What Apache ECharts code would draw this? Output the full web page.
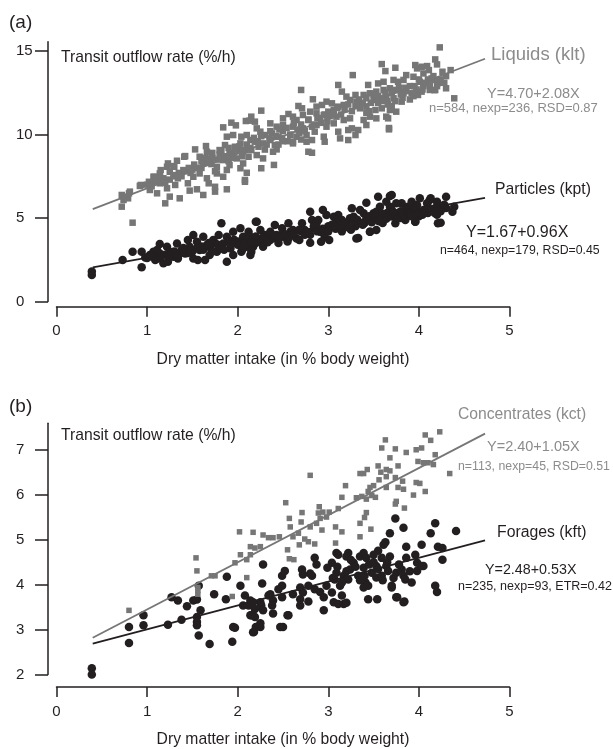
<!DOCTYPE html>
<html>
<head>
<meta charset="utf-8">
<script src="https://cdn.jsdelivr.net/npm/echarts@6/dist/echarts.min.js"></script>
<style>
  html, body { margin: 0; padding: 0; background: #fff; }
  #chart { width: 613px; height: 749px; }
</style>
</head>
<body>
<div id="chart"></div>
<script>
// ---- data ----
const xTicks = [0, 1, 2, 3, 4, 5];
const yTicksA = [0, 5, 10, 15];
const yTicksB = [2, 3, 4, 5, 6, 7];

// panel (a)
const liquids = [
  [4.23,15.22],[4.18,14.5],[4.20,14.2],[3.59,14.22],[3.74,14.0],[3.63,13.8],[3.98,13.96],[4.03,14.06],[4.09,14.1],
  [3.27,13.56],[3.86,13.56],[3.94,13.46],[4.05,13.66],[4.14,13.36],[4.01,13.16],[4.05,13.06],[4.18,13.27],[3.72,13.27],
  [3.77,13.16],[3.83,13.27],[4.12,12.67],[4.18,12.67],[3.11,12.97],[3.44,12.97],[3.55,13.06],[3.61,13.16],[2.70,12.67],
  [3.15,12.57],[3.92,12.47],[3.99,12.37],[4.03,12.57],[3.30,12.37],[3.39,12.37],[3.46,12.47],[3.53,12.57],[3.61,12.67],
  [3.68,12.77],[3.75,12.67],[2.83,12.11],[2.98,11.97],[3.04,11.87],[3.20,12.27],[3.24,12.07],[3.31,11.97],[3.42,12.17],
  [3.50,12.07],[3.57,12.17],[3.64,12.27],[3.72,12.17],[3.81,11.97],[3.83,12.47],[2.67,11.71],[2.71,11.57],[2.87,11.67],
  [2.93,11.77],[3.11,11.67],[3.17,11.77],[2.26,11.43],[3.00,11.37],[3.06,11.47],[3.35,11.57],[3.42,11.67],[3.52,11.47],
  [3.59,11.57],[3.68,11.47],[3.75,11.37],[3.66,10.97],[2.56,11.23],[2.61,11.07],[2.72,11.17],[2.80,11.37],[2.87,11.27],
  [2.95,11.17],[2.50,10.97],[2.65,10.87],[2.78,10.87],[2.91,10.97],[3.09,11.07],[3.17,10.87],[3.24,10.97],[3.39,10.87],
  [3.46,11.07],[3.53,10.97],[3.64,11.07],[2.15,11.07],[2.19,10.77],[2.36,10.67],[2.43,10.47],[2.50,10.57],[2.61,10.47],
  [2.72,10.37],[2.82,10.47],[2.87,10.57],[2.98,10.47],[3.06,10.67],[3.26,10.37],[3.33,10.27],[3.42,10.57],[3.11,10.17],
  [3.22,10.27],[3.67,10.31],[2.21,10.37],[2.25,10.17],[2.30,9.97],[2.38,10.07],[2.45,9.87],[2.58,9.97],[2.65,9.87],
  [2.76,9.97],[2.85,10.17],[2.95,9.87],[3.13,9.77],[3.22,9.67],[3.30,9.97],[2.96,9.57],[2.14,9.67],[2.19,9.57],
  [2.23,9.27],[2.28,9.47],[2.36,9.67],[2.41,9.37],[2.49,9.77],[2.61,9.57],[2.76,9.57],[2.82,9.67],[2.15,9.07],
  [2.21,8.77],[2.28,8.57],[2.39,8.97],[2.43,9.11],[2.61,9.47],[2.78,8.97],[2.82,8.91],[2.40,8.18],[2.26,7.98],
  [1.84,10.43],[1.93,10.71],[1.98,10.55],[2.09,10.81],[2.13,10.83],[1.88,9.87],[1.95,9.97],[2.04,9.87],[2.10,9.97],
  [1.53,9.11],[1.65,9.31],[1.42,8.71],[1.33,8.43],[1.22,8.07],[1.29,8.11],[1.80,9.07],[1.86,9.37],[1.91,8.87],
  [1.97,9.27],[2.03,9.47],[2.08,9.07],[2.12,8.67],[1.84,8.47],[1.91,8.17],[1.99,8.57],[2.06,8.27],[1.77,8.07],
  [1.88,7.88],[2.03,7.98],[1.66,8.97],[1.69,8.57],[1.58,8.67],[1.62,8.27],[1.71,8.23],
  [0.72,6.38],[0.74,6.08],[0.72,5.68],[0.81,6.58],[0.79,6.18],[0.92,6.92],[1.05,7.12],[1.03,6.68],[1.11,7.28],
  [1.14,7.08],[1.18,7.38],[1.11,6.48],[1.20,5.88],[1.25,6.28],[1.22,6.78],[1.31,6.98],[1.36,6.18],[1.34,7.38],
  [1.29,7.57],[1.45,7.08],[1.47,6.64],[1.55,6.72],[1.51,7.47],[1.58,7.67],[1.62,6.38],[1.66,7.38],[1.68,7.08],
  [1.75,6.58],[1.77,7.67],[1.88,6.72],[1.84,7.47],[2.08,7.28],[2.10,7.71],[0.84,4.72],[1.07,7.47],[1.14,7.67],
  [1.25,7.77],[1.40,7.87],[1.15,7.87],[1.23,8.27],[1.30,8.07],[1.41,8.67],[1.19,7.28],[1.08,7.47],[0.93,6.98],
  [1.02,7.17],[0.80,6.48],[0.74,6.28],[1.75,6.87],[2.08,7.17],[4.39,12.17],[4.30,12.77],[4.17,12.66],[4.21,13.08],
  [3.67,10.39],[4.11,13.86],[3.96,14.16],[1.72,8.6],[1.80,8.8],[1.95,8.9],[2.00,9.1],[1.60,8.0],[1.50,7.9],
  [1.75,7.8],[1.90,8.4],[2.05,8.7],[2.30,9.1],[2.45,9.4],[2.55,9.6],[2.35,9.8],[2.50,10.2],[2.68,10.1],[2.70,9.7],
  [3.35,11.8],[3.45,11.4],[3.55,11.9],[3.65,12.0],[3.70,11.7],[3.80,12.4],[3.90,12.1],[3.85,12.8],[3.95,12.9],
  [4.05,12.9],[4.10,13.3],[4.26,13.76],[4.35,13.86],[4.30,13.5],
  // dense core of the band
  [1.0,7.0],[1.05,6.9],[1.1,7.2],[1.15,7.4],[1.2,7.1],[1.25,7.3],[1.3,7.5],[1.35,7.7],[1.38,7.5],[1.42,7.8],
  [1.46,8.0],[1.48,7.7],[1.52,8.2],[1.55,8.0],[1.6,8.4],[1.64,8.6],[1.68,8.3],[1.72,8.9],[1.78,8.5],[1.82,9.0],
  [1.86,8.7],[1.9,9.2],[1.94,8.6],[1.98,9.0],[2.02,9.3],[2.06,9.0],[2.1,9.4],[2.14,9.2],[2.18,9.8],[2.22,9.6],
  [2.26,9.9],[2.32,9.4],[2.36,10.2],[2.42,9.9],[2.46,10.3],[2.5,9.6],[2.54,10.4],[2.58,10.0],[2.62,10.7],[2.66,10.3],
  [2.7,10.6],[2.74,10.2],[2.78,10.9],[2.84,10.6],[2.88,11.0],[2.92,10.7],[2.96,11.2],[2.99,10.8],[3.02,11.1],[3.06,11.3],
  [3.1,11.6],[3.14,11.2],[3.18,11.5],[3.22,11.8],[3.26,11.4],[3.3,11.7],[3.34,12.1],[3.38,11.9],[3.42,11.3],[3.47,11.9],
  [3.5,12.4],[3.55,12.3],[3.6,12.0],[3.63,12.5],[3.66,11.8],[3.7,12.5],[3.74,12.0],[3.78,12.8],[3.82,12.2],[3.86,12.6],
  [3.9,12.9],[3.94,12.3],[3.97,12.7],[4.0,13.3],[4.04,12.7],[4.08,13.1],[4.12,13.0],[4.16,13.5],[4.2,12.9],[4.24,13.3],
  [4.28,13.1]
];

const particles = [
  [0.39,1.79],[0.39,1.59],[0.73,2.48],[0.84,2.98],[0.94,2.98],[0.94,2.05],[1.03,2.78],[1.07,2.98],[1.11,3.08],
  [1.14,2.88],[1.18,2.29],[1.12,2.58],[1.09,2.48],[1.22,3.28],[1.25,2.98],[1.29,2.68],[1.33,3.48],[1.34,2.58],
  [1.38,3.08],[1.42,2.88],[1.45,3.68],[1.47,3.28],[1.51,3.98],[1.51,2.58],[1.55,3.58],[1.58,3.08],[1.62,3.88],
  [1.64,2.48],[1.66,3.38],[1.69,2.78],[1.73,3.68],[1.77,2.98],[1.79,3.98],[1.82,4.68],[1.84,3.48],[1.88,3.88],
  [1.92,3.18],[1.95,2.78],[1.95,4.18],[1.99,3.58],[2.03,4.38],[2.04,2.98],[2.06,3.88],[2.10,3.28],[2.12,4.18],
  [1.14,3.44],[1.23,2.38],[0.98,2.64],
  [2.20,4.78],[2.14,3.88],[2.17,3.28],[2.15,2.98],[2.23,3.58],[2.28,3.28],[2.30,3.98],[2.25,4.28],[2.36,3.68],
  [2.41,4.58],[2.43,3.98],[2.49,4.38],[2.50,3.88],[2.56,4.68],[2.58,4.18],[2.65,3.78],[2.68,3.68],[2.71,4.68],
  [2.74,4.28],[2.80,5.38],[2.82,4.88],[2.80,3.52],[2.85,4.38],[2.89,4.88],[2.91,4.18],[2.96,3.88],[3.01,3.68],
  [2.98,5.18],[3.06,5.08],[3.11,5.18],[3.15,4.88],[3.20,4.48],[3.26,5.58],[3.28,5.08],[3.31,3.78],[3.33,4.68],
  [3.39,5.28],[3.42,5.92],[3.44,4.88],[3.46,4.18],[3.50,5.28],[3.53,4.28],[3.57,5.68],[3.61,5.08],[3.64,5.98],
  [3.68,6.32],[3.70,5.48],[3.74,4.68],[3.77,5.28],[3.81,5.88],[3.85,4.88],[3.88,5.68],[3.92,5.98],[3.96,4.78],
  [3.98,5.38],[4.01,6.18],[4.05,5.48],[4.10,5.68],[4.12,6.08],[4.18,5.28],[4.21,4.68],[4.23,5.58],[2.36,4.18],
  [2.61,4.28],[2.87,4.68],[3.09,4.88],[3.24,4.98],[3.35,5.48],[3.53,5.38],[3.68,5.68],[3.75,5.88],[3.86,5.48],
  [3.98,5.78],[4.09,5.88],[4.20,5.98],
  [4.24,4.72],[4.39,5.68],[4.37,5.38],[3.96,4.78],[3.46,4.18],[3.33,3.80],[2.92,3.58],[2.14,2.78],[1.88,2.38],
  [1.56,2.48],[3.70,6.38],[3.55,6.28],[4.13,6.18],[4.30,6.28],[2.94,5.48],[2.21,4.78],
  [1.2,2.8],[1.3,3.0],[1.4,3.2],[1.5,3.0],[1.6,3.3],[1.7,3.2],[1.8,3.3],[1.9,3.6],[2.0,3.4],[2.1,3.7],[2.2,3.5],
  [2.3,3.7],[2.4,3.8],[2.5,4.1],[2.6,4.0],[2.7,4.2],[2.8,4.0],[2.9,4.3],[3.0,4.5],[3.1,4.4],[3.2,4.7],[3.3,4.5],
  [3.4,4.7],[3.5,4.9],[3.6,4.7],[3.7,5.1],[3.8,5.0],[3.9,5.3],[4.0,5.1],[4.1,5.3],[4.2,5.2],[4.3,5.6],[3.45,5.1],
  [3.55,5.0],[3.65,5.3],[3.75,5.2],[3.85,5.5],[3.95,5.5],[3.15,4.2],[3.25,4.3],[2.95,4.1],[2.55,3.6],[2.45,3.5],
  [2.05,3.1],[1.75,3.5],[1.45,2.9],[1.35,2.8],
  // dense core of the band
  [1.0,2.6],[1.05,2.7],[1.15,2.7],[1.25,2.75],[1.3,2.9],[1.4,2.95],[1.48,3.1],[1.55,3.2],[1.62,3.1],[1.68,3.5],
  [1.72,3.0],[1.78,3.4],[1.85,3.1],[1.92,3.45],[1.96,3.7],[2.02,3.6],[2.08,3.45],[2.15,3.6],[2.2,3.9],[2.27,3.8],
  [2.33,3.55],[2.38,4.0],[2.45,3.8],[2.52,4.0],[2.57,3.85],[2.62,4.1],[2.68,4.3],[2.74,4.0],[2.78,4.15],[2.84,4.5],
  [2.88,4.2],[2.94,4.35],[3.0,4.2],[3.04,4.6],[3.08,4.35],[3.13,4.55],[3.18,4.7],[3.22,4.45],[3.28,4.8],[3.32,4.9],
  [3.38,4.6],[3.42,5.0],[3.48,4.75],[3.52,5.1],[3.56,4.8],[3.6,5.25],[3.64,4.95],[3.68,5.1],[3.72,5.35],[3.76,4.95],
  [3.8,5.4],[3.84,5.15],[3.88,5.3],[3.92,5.1],[3.96,5.6],[4.0,5.35],[4.04,5.2],[4.08,5.5],[4.14,5.4],[4.18,5.6],
  [4.24,5.4],[4.28,5.8]
];

// panel (b)
const concentrates = [
  [2.02,5.18],[4.07,7.34],[4.13,7.22],[4.23,7.41],[3.63,7.23],[3.59,7.05],[3.74,7.03],[3.86,6.95],[3.97,7.01],
  [4.03,7.05],[4.18,6.90],[3.68,6.83],[3.99,6.75],[4.05,6.72],[4.10,6.72],[4.16,6.68],[2.80,6.44],[3.35,6.48],
  [3.39,6.48],[3.43,6.57],[3.55,6.65],[3.58,6.51],[3.64,6.57],[3.68,6.54],[3.77,6.65],[3.56,6.34],[3.64,6.41],
  [3.74,6.39],[3.82,6.31],[4.01,6.26],[3.97,6.28],[3.19,6.21],[3.46,6.17],[3.50,6.21],[3.77,6.17],[3.83,6.13],
  [3.64,6.17],[4.07,6.08],[3.94,6.00],[3.44,6.08],[3.48,5.99],[3.52,5.95],[3.31,5.94],[3.37,5.97],[3.42,5.91],
  [3.15,5.95],[3.75,5.86],[3.74,5.80],[3.84,5.71],[2.53,5.83],[2.90,5.74],[2.94,5.62],[2.89,5.60],[2.71,5.61],
  [3.01,5.62],[3.11,5.70],[3.42,5.61],[3.40,5.50],[3.35,5.37],[2.98,5.51],[2.91,5.48],[2.87,5.37],[2.80,5.29],
  [2.93,5.22],[2.57,5.48],[2.70,5.40],[2.58,5.29],[2.61,5.07],[2.67,5.15],[2.74,5.02],[2.17,5.17],[2.28,5.11],
  [2.34,5.05],[2.39,5.05],[2.46,5.07],[3.08,5.29],[3.15,5.18],[3.47,5.24],[3.35,5.07],[2.68,4.89],[2.78,4.96],
  [2.85,4.91],[3.08,4.93],[2.14,4.85],[2.19,4.82],[2.25,4.85],[4.34,6.48],
  [1.54,4.60],[1.55,4.31],[1.56,3.87],[1.56,3.79],[1.56,3.94],[0.80,3.43],[1.71,4.20],[1.75,4.20],[1.97,4.49],
  [1.94,3.74],[2.10,4.16],[2.57,4.58],[2.10,4.56],[2.14,4.67],[2.62,4.56],[2.55,4.78],[2.03,4.67]
];

const forages = [
  [3.74,5.48],[3.83,5.27],[3.68,5.15],[4.18,5.37],[4.13,5.15],[3.63,4.95],[3.61,4.89],[4.03,4.89],[4.21,4.85],
  [3.86,4.85],[3.55,4.76],[3.09,4.71],[3.22,4.71],[3.39,4.71],[4.41,5.20],[4.26,4.82],[4.26,4.56],
  [0.39,2.14],[0.39,2.00],[0.80,3.06],[0.80,2.70],[0.96,3.32],[0.96,3.10],[1.23,3.11],[1.27,3.72],[1.34,3.65],
  [1.38,3.22],[1.44,3.52],[1.51,3.65],[1.55,3.67],[1.55,3.28],[1.55,3.17],[1.55,3.10],[1.57,3.98],[1.59,3.43],
  [1.57,2.87],[1.74,3.79],[1.69,2.68],[1.88,4.18],[1.87,3.68],[1.94,2.73],[1.97,3.04],[2.03,3.98],[2.08,3.76],
  [2.06,3.54],[2.12,3.54],[2.14,3.32],
  [2.28,4.45],[2.85,4.60],[2.87,4.45],[2.71,4.34],[2.72,4.23],[2.82,4.20],[2.80,4.25],[2.49,4.20],[2.52,4.31],
  [2.27,4.03],[2.49,3.98],[2.45,3.90],[2.36,3.79],[2.34,3.76],[2.14,3.65],[2.17,3.61],[2.25,3.61],[2.26,3.54],
  [2.19,3.46],[2.28,3.43],[2.38,3.54],[2.39,3.36],[2.15,3.32],[2.19,3.28],[2.56,3.32],[2.25,3.06],[2.17,2.94],
  [2.50,3.06],[2.39,3.65],[2.49,3.72],[2.61,3.79],[2.69,3.94],[2.72,3.83],[2.78,3.98],[2.69,3.68],[2.69,3.54],
  [2.78,3.63],[2.85,3.90],[2.91,3.84],[2.95,3.72],[2.98,3.98],[3.04,3.83],[3.06,3.61],[3.11,3.57],[3.17,3.57],
  [3.20,3.60],[3.15,3.76],[3.13,3.98],[2.95,3.43],[2.99,4.38],[3.04,4.49],[3.09,4.27],[3.07,4.12],[3.17,4.20],
  [3.24,4.34],[3.22,4.12],[3.28,4.49],[3.33,4.20],[3.39,4.38],[3.41,4.05],[3.44,3.98],[3.48,4.27],[3.53,4.16],
  [3.53,4.42],[3.59,4.20],[3.64,4.42],[3.66,4.31],[3.70,3.98],[3.75,4.27],[3.81,4.34],[3.83,4.20],[3.85,4.12],
  [3.11,4.67],[3.20,4.63],[3.35,4.63],[3.42,4.60],[3.50,4.67],[3.59,4.60],[3.68,4.63],[3.86,4.60],[3.98,4.49],
  [4.05,4.42],[3.96,4.67],[3.54,3.68],[3.70,3.94],[3.75,3.72],[3.84,3.63],[4.18,3.98],[4.20,3.84],[3.98,4.31],
  [4.03,4.42],[3.39,3.94],[3.83,3.61],[3.76,3.72],[3.44,3.68],[2.47,3.06],[2.55,3.32],[2.20,3.06],[2.25,3.14],
  [2.18,2.95],[1.95,3.06],
  [3.1,4.4],[3.2,4.3],[3.3,4.4],[3.4,4.2],[3.45,4.45],[3.55,4.35],[3.6,4.1],[3.25,4.55],[3.35,4.1],[3.05,4.15],
  [3.15,4.05],[3.5,4.5],[3.65,4.5],[3.72,4.15],[3.78,4.45],[3.9,4.3],[3.92,4.05]
];

// fitted lines, end points
const liquidsFit = [[0.4, 5.53], [4.73, 14.54]];
const particlesFit = [[0.4, 2.05], [4.73, 6.21]];
const concentratesFit = [[0.4, 2.82], [4.73, 7.37]];
const foragesFit = [[0.4, 2.69], [4.73, 4.99]];

const BLACK = '#231f20';
const GREY = '#767676';
const GREY_TXT = '#8c8c8c';
const FONT = "'Liberation Sans', Arial, Helvetica, sans-serif";

let chart = echarts.init(document.getElementById('chart'), null, { renderer: 'canvas' });

function xAx(idx, off) {
  return {
    gridIndex: idx, type: 'value', min: 0, max: 5, interval: 1, offset: off,
    axisLine: { onZero: false, lineStyle: { color: BLACK, width: 1.5 } },
    axisTick: { length: 10, lineStyle: { color: BLACK, width: 1.5 } },
    axisLabel: { margin: 17, fontSize: 15, color: BLACK, fontFamily: FONT },
    splitLine: { show: false },
    name: 'Dry matter intake (in % body weight)',
    nameLocation: 'middle', nameGap: 45,
    nameTextStyle: { fontSize: 15.7, color: BLACK, fontFamily: FONT }
  };
}

function yAx(idx, lo, hi, ticks) {
  return {
    gridIndex: idx, type: 'value', min: lo, max: hi, offset: 8.5,
    axisLine: { show: true, onZero: false, lineStyle: { color: BLACK, width: 1.5 } },
    axisTick: { show: true, length: 13, customValues: ticks, lineStyle: { color: BLACK, width: 1.5 } },
    axisLabel: { customValues: ticks, align: 'left', margin: 32, fontSize: 15, color: BLACK, fontFamily: FONT },
    splitLine: { show: false }
  };
}

function txt(text, x, y, size, color) {
  return {
    type: 'text', x: x, y: y, silent: true,
    style: { text: text, fill: color, font: size + 'px ' + FONT, align: 'left', verticalAlign: 'middle',
             textAlign: 'left', textVerticalAlign: 'middle' }
  };
}

function pts(data, xi, sym, size, color) {
  return { type: 'scatter', xAxisIndex: xi, yAxisIndex: xi, data: data, symbol: sym, symbolSize: size,
           itemStyle: { color: color, opacity: 1 }, silent: true };
}

function fit(data, xi, color) {
  return { type: 'line', xAxisIndex: xi, yAxisIndex: xi, data: data, showSymbol: false, silent: true,
           lineStyle: { color: color, width: 1.8 } };
}

var option = {
  animation: false,
  backgroundColor: '#fff',
  grid: [
    { left: 56.5, top: 41.7, width: 453, height: 259.8 },
    { left: 56.5, top: 423.3, width: 453, height: 255.2 }
  ],
  xAxis: [xAx(0, 5.2), xAx(1, 12.5)],
  yAxis: [yAx(0, 0, 15.56, yTicksA), yAx(1, 2, 7.6, yTicksB)],
  series: [
    pts(particles, 0, 'circle', 8.5, BLACK),
    pts(liquids, 0, 'rect', 6.5, GREY),
    fit(liquidsFit, 0, GREY),
    fit(particlesFit, 0, BLACK),
    pts(forages, 1, 'circle', 8.5, BLACK),
    pts(concentrates, 1, 'rect', 5.5, GREY),
    fit(concentratesFit, 1, GREY),
    fit(foragesFit, 1, BLACK)
  ],
  graphic: [
    txt('(a)', 9, 23, 19, BLACK),
    txt('Transit outflow rate (%/h)', 61, 58, 15.7, BLACK),
    txt('Liquids (klt)', 491, 55, 18.5, GREY_TXT),
    txt('Y=4.70+2.08X', 487, 94, 14.5, GREY_TXT),
    txt('n=584, nexp=236, RSD=0.87', 429, 108, 13, GREY_TXT),
    txt('Particles (kpt)', 495, 190, 15.7, BLACK),
    txt('Y=1.67+0.96X', 466, 233, 16, BLACK),
    txt('n=464, nexp=179, RSD=0.45', 440, 251, 12.3, BLACK),
    txt('(b)', 9, 407, 19, BLACK),
    txt('Transit outflow rate (%/h)', 61, 436, 15.7, BLACK),
    txt('Concentrates (kct)', 458, 415, 15.7, GREY_TXT),
    txt('Y=2.40+1.05X', 487, 447, 14.5, GREY_TXT),
    txt('n=113, nexp=45, RSD=0.51', 458, 467, 12.3, GREY_TXT),
    txt('Forages (kft)', 497, 533, 15.8, BLACK),
    txt('Y=2.48+0.53X', 485, 570, 14.3, BLACK),
    txt('n=235, nexp=93, ETR=0.42', 458, 587, 12.5, BLACK)
  ]
};

chart.setOption(option);
</script>
</body>
</html>
